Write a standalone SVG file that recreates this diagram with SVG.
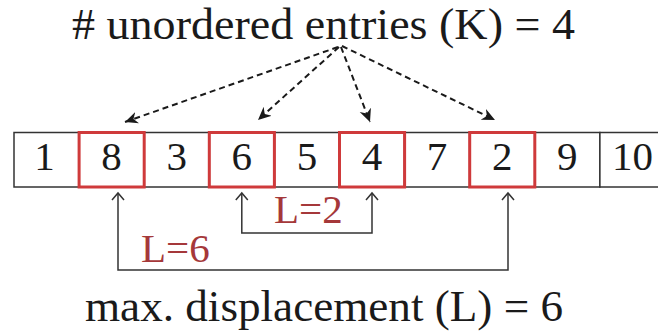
<svg xmlns="http://www.w3.org/2000/svg" width="658" height="331" viewBox="0 0 658 331">
<defs>
<style>
.t{font-family:"Liberation Serif","Times New Roman",serif;fill:#1a1a1a}
.d{font-family:"Liberation Serif","Times New Roman",serif;font-size:41px;fill:#1a1a1a;text-anchor:middle}
.lab{font-family:"Liberation Serif","Times New Roman",serif;font-size:41px;fill:#a5383a}
.cell{fill:#fff;stroke:#333;stroke-width:1.5}
.red{fill:none;stroke:#cf3a3b;stroke-width:3}
.dash{fill:none;stroke:#1a1a1a;stroke-width:2;stroke-dasharray:6 4}
.br{fill:none;stroke:#333;stroke-width:1.5}
</style>
<marker id="stealth" markerUnits="userSpaceOnUse" markerWidth="16" markerHeight="14" refX="13" refY="6" orient="auto">
<path d="M0,0 L13,6 L0,12 L4,6 Z" fill="#1a1a1a"/>
</marker>
<marker id="open" markerUnits="userSpaceOnUse" markerWidth="12" markerHeight="16" refX="8" refY="7" orient="auto-start-reverse">
<path d="M1,1 L8,7 L1,13" fill="none" stroke="#333" stroke-width="1.5"/>
</marker>
</defs>
<rect width="658" height="331" fill="#fff"/>
<text id="title" class="t" x="72" y="39" font-size="45" textLength="503" lengthAdjust="spacingAndGlyphs"># unordered entries (K) = 4</text>
<g id="array">
<rect class="cell" x="14" y="132.5" width="65.1" height="54.5"/>
<rect class="cell" x="79.1" y="132.5" width="65.1" height="54.5"/>
<rect class="cell" x="144.2" y="132.5" width="65.1" height="54.5"/>
<rect class="cell" x="209.3" y="132.5" width="65.1" height="54.5"/>
<rect class="cell" x="274.4" y="132.5" width="65.1" height="54.5"/>
<rect class="cell" x="339.5" y="132.5" width="65.1" height="54.5"/>
<rect class="cell" x="404.6" y="132.5" width="65.1" height="54.5"/>
<rect class="cell" x="469.7" y="132.5" width="65.1" height="54.5"/>
<rect class="cell" x="534.8" y="132.5" width="65.1" height="54.5"/>
<rect class="cell" x="599.9" y="132.5" width="65.1" height="54.5"/>
</g>
<g id="c1"><text class="d" x="44.5" y="170">1</text></g>
<g id="c2"><rect class="red" x="79.1" y="132.5" width="65.1" height="54.5"/><text class="d" x="111.6" y="170">8</text></g>
<g id="c3"><text class="d" x="176.7" y="170">3</text></g>
<g id="c4"><rect class="red" x="209.3" y="132.5" width="65.1" height="54.5"/><text class="d" x="241.8" y="170">6</text></g>
<g id="c5"><text class="d" x="306.9" y="170">5</text></g>
<g id="c6"><rect class="red" x="339.5" y="132.5" width="65.1" height="54.5"/><text class="d" x="372" y="170">4</text></g>
<g id="c7"><text class="d" x="437.1" y="170">7</text></g>
<g id="c8"><rect class="red" x="469.7" y="132.5" width="65.1" height="54.5"/><text class="d" x="502.2" y="170">2</text></g>
<g id="c9"><text class="d" x="567.3" y="170">9</text></g>
<g id="c10"><text class="d" x="632.5" y="170">10</text></g>
<g id="connectors">
<line class="dash" x1="338" y1="47" x2="125" y2="122" marker-end="url(#stealth)"/>
<line class="dash" x1="339" y1="47" x2="258" y2="120" marker-end="url(#stealth)"/>
<line class="dash" x1="341" y1="47" x2="370" y2="122" marker-end="url(#stealth)"/>
<line class="dash" x1="342" y1="46" x2="495" y2="120" marker-end="url(#stealth)"/>
<path class="br" d="M241.8,193 V233 H372 V193" marker-start="url(#open)" marker-end="url(#open)"/>
<path class="br" d="M118,193 V270 H508 V193" marker-start="url(#open)" marker-end="url(#open)"/>
</g>
<g id="labels">
<text class="lab" x="274" y="223">L=2</text>
<text class="lab" x="141" y="262">L=6</text>
</g>
<text id="footer" class="t" x="85" y="321" font-size="44" textLength="478" lengthAdjust="spacingAndGlyphs">max. displacement (L) = 6</text>
</svg>
